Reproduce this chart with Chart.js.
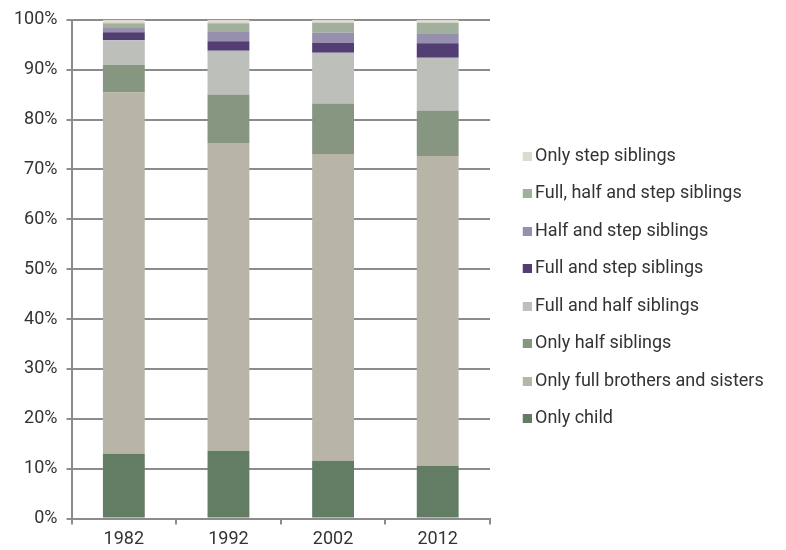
<!DOCTYPE html>
<html>
<head>
<meta charset="utf-8">
<script src="https://cdn.jsdelivr.net/npm/chart.js@4.4.1/dist/chart.umd.min.js"></script>
<style>
html,body{margin:0;padding:0;background:#fff;}
#wrap{width:786px;height:550px;}
</style>
</head>
<body>
<div id="wrap"><canvas id="c" width="786" height="550"></canvas></div>
<script>
const categories = ['1982', '1992', '2002', '2012'];
const onlyChild = [13.0, 13.6, 11.6, 10.6];
const onlyFull = [72.4, 61.7, 61.5, 62.1];
const onlyHalf = [5.6, 9.7, 10.1, 9.1];
const fullAndHalf = [4.9, 8.8, 10.2, 10.6];
const fullAndStep = [1.6, 1.9, 2.0, 2.9];
const halfAndStep = [1.0, 2.0, 2.0, 2.0];
const fullHalfStep = [0.8, 1.6, 2.0, 2.1];
const onlyStep = [0.7, 0.7, 0.6, 0.6];
const yTicks = [0, 10, 20, 30, 40, 50, 60, 70, 80, 90, 100];

const seriesNames = ['Only child', 'Only full brothers and sisters', 'Only half siblings', 'Full and half siblings', 'Full and step siblings', 'Half and step siblings', 'Full, half and step siblings', 'Only step siblings'];
const seriesData = [onlyChild, onlyFull, onlyHalf, fullAndHalf, fullAndStep, halfAndStep, fullHalfStep, onlyStep];
const colors = ['#627d63', '#b8b4a8', '#879680', '#bdbfba', '#523e73', '#968fad', '#a0b09d', '#dedad2'];

const FONT = 'Roboto, "Noto Sans", sans-serif';
const FS = 18;

function swatch(color) {
  const c = document.createElement('canvas');
  c.width = 28; c.height = 9;
  const g = c.getContext('2d');
  g.fillStyle = color;
  g.fillRect(19, 0, 9, 9);
  return c;
}

function build() {
  const datasets = seriesNames.map((n, i) => ({
    label: n,
    data: seriesData[i],
    backgroundColor: colors[i],
    borderWidth: 0,
    barPercentage: 0.4,
    categoryPercentage: 1.0
  }));

  const legendWidthPlugin = {
    id: 'legendWidth',
    afterInit(chart) {
      const lg = chart.legend;
      const orig = lg.fit;
      lg.fit = function () {
        orig.call(this);
        this.width = 296;
      };
    }
  };

  new Chart(document.getElementById('c'), {
    type: 'bar',
    data: { labels: categories, datasets },
    plugins: [legendWidthPlugin],
    options: {
      responsive: false,
      animation: false,
      devicePixelRatio: 1,
      layout: { padding: { left: 5, right: 0, top: 8, bottom: -5 } },
      plugins: {
        tooltip: { enabled: false },
        legend: {
          position: 'right',
          reverse: true,
          title: { display: true, text: '', font: { size: 1, lineHeight: 1 }, padding: { top: 10.5, bottom: 0 } },
          labels: {
            usePointStyle: true,
            pointStyleWidth: 16.5,
            boxHeight: 9,
            padding: 19.5,
            color: '#333',
            font: { family: FONT, size: FS },
            generateLabels(chart) {
              const items = Chart.defaults.plugins.legend.labels.generateLabels(chart);
              items.forEach(it => { it.pointStyle = swatch(colors[it.datasetIndex]); });
              return items;
            }
          }
        }
      },
      scales: {
        x: {
          stacked: true,
          grid: { display: true, drawOnChartArea: false, drawTicks: true, tickLength: 6, color: '#8c8c8c', lineWidth: 2, offset: true },
          border: { display: true, color: '#8c8c8c', width: 2 },
          ticks: { color: '#333', font: { family: FONT, size: FS }, padding: 4.4 }
        },
        y: {
          stacked: true,
          min: 0,
          max: 100,
          afterBuildTicks: (axis) => { axis.ticks = yTicks.map(v => ({ value: v })); },
          grid: { color: '#8c8c8c', lineWidth: 2, drawTicks: true, tickLength: 5 },
          border: { display: true, color: '#8c8c8c', width: 2 },
          ticks: { color: '#333', font: { family: FONT, size: FS }, padding: 9, callback: v => v + '%' }
        }
      }
    }
  });
}

const loads = [document.fonts.load(FS + 'px Roboto'), document.fonts.load('bold ' + FS + 'px Roboto')];
Promise.all(loads).then(build, build);
</script>
</body>
</html>
